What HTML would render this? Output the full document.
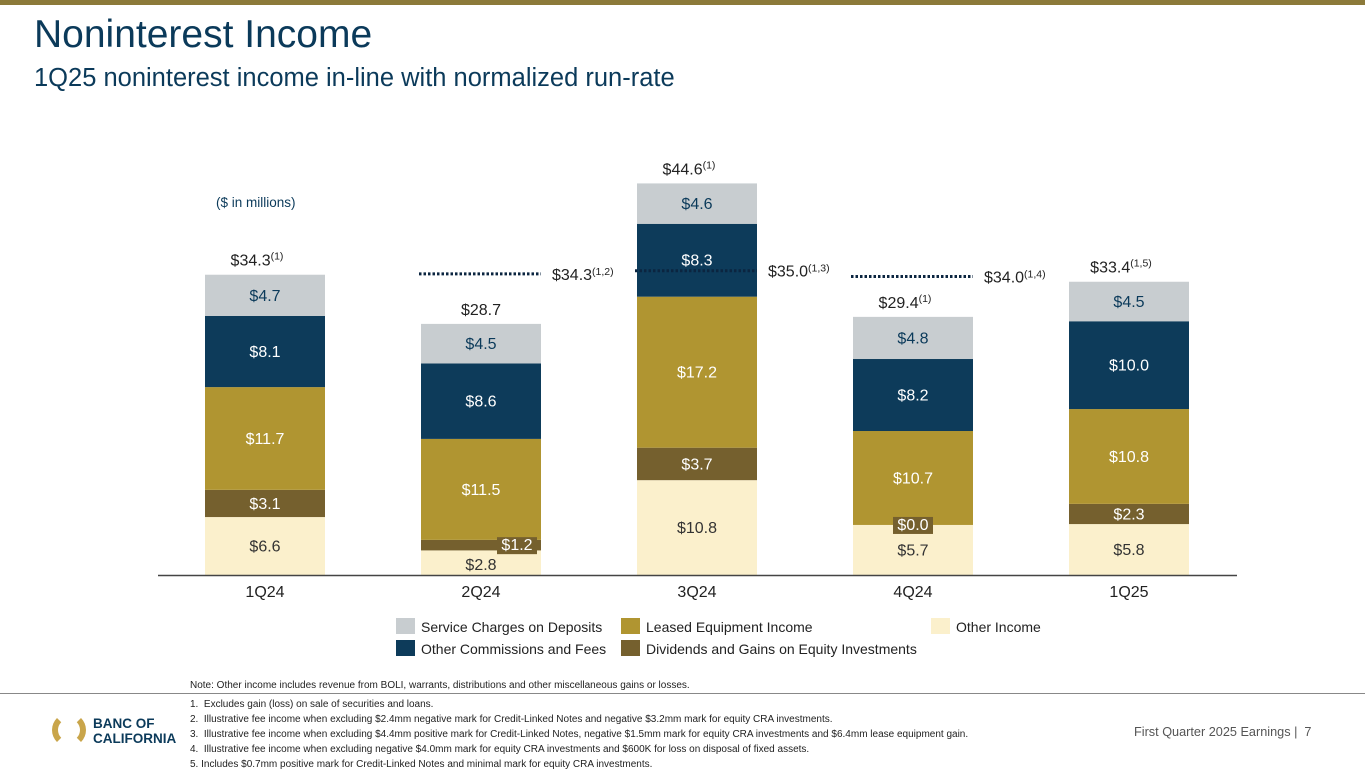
<!DOCTYPE html>
<html><head><meta charset="utf-8"><style>
body{margin:0;width:1365px;height:768px;overflow:hidden;background:#fff;font-family:"Liberation Sans",sans-serif;position:relative}
.t{position:absolute;white-space:nowrap}
</style></head><body>
<div style="position:absolute;left:0;top:0;width:1365px;height:5px;background:#8c7a3a"></div>
<div class="t" style="left:34px;top:13px;font-size:39px;color:#0b3a5a">Noninterest Income</div>
<div class="t" style="left:34px;top:64px;font-size:25.5px;color:#0b3a5a">1Q25 noninterest income in-line with normalized run-rate</div>
<div class="t" style="left:216px;top:195px;font-size:13.5px;color:#0b3a5a">($ in millions)</div>
<svg id="chart" width="1365" height="768" style="position:absolute;left:0;top:0"></svg>
<div>
<div style="position:absolute;left:396px;top:618px;width:19px;height:16px;background:#c8cdd0"></div>
<div class="t" style="left:421px;top:619px;font-size:14px;color:#222">Service Charges on Deposits</div>
<div style="position:absolute;left:621px;top:618px;width:19px;height:16px;background:#b09531"></div>
<div class="t" style="left:646px;top:619px;font-size:14px;color:#222">Leased Equipment Income</div>
<div style="position:absolute;left:931px;top:618px;width:19px;height:16px;background:#fbf0cc"></div>
<div class="t" style="left:956px;top:619px;font-size:14px;color:#222">Other Income</div>
<div style="position:absolute;left:396px;top:640px;width:19px;height:16px;background:#0d3b5a"></div>
<div class="t" style="left:421px;top:641px;font-size:14px;color:#222">Other Commissions and Fees</div>
<div style="position:absolute;left:621px;top:640px;width:19px;height:16px;background:#75602e"></div>
<div class="t" style="left:646px;top:641px;font-size:14px;color:#222">Dividends and Gains on Equity Investments</div>
</div>
<div class="t" style="left:190px;top:680px;font-size:10px;color:#222">Note: Other income includes revenue from BOLI, warrants, distributions and other miscellaneous gains or losses.</div>
<div style="position:absolute;left:0;top:693px;width:1365px;height:1px;background:#888"></div>
<div style="position:absolute;left:190px;top:697px;font-size:10px;line-height:15px;color:#222">
<div>1.&nbsp; Excludes gain (loss) on sale of securities and loans.</div>
<div>2.&nbsp; Illustrative fee income when excluding $2.4mm negative mark for Credit-Linked Notes and negative $3.2mm mark for equity CRA investments.</div>
<div>3.&nbsp; Illustrative fee income when excluding $4.4mm positive mark for Credit-Linked Notes, negative $1.5mm mark for equity CRA investments and $6.4mm lease equipment gain.</div>
<div>4.&nbsp; Illustrative fee income when excluding negative $4.0mm mark for equity CRA investments and $600K for loss on disposal of fixed assets.</div>
<div>5. Includes $0.7mm positive mark for Credit-Linked Notes and minimal mark for equity CRA investments.</div>
</div>
<div style="position:absolute;left:52px;top:713px;width:34px;height:34px;border-radius:50%;border:6px solid #c9a54a;border-top-color:transparent;border-bottom-color:transparent;box-sizing:border-box"></div>
<div class="t" style="left:93px;top:716px;font-size:13.5px;font-weight:bold;color:#0b3a5a;line-height:15px">BANC OF<br>CALIFORNIA</div>
<div class="t" style="left:1134px;top:725px;font-size:12.7px;color:#555">First Quarter 2025 Earnings |&nbsp; 7</div>
<script>
const categories=["1Q24","2Q24","3Q24","4Q24","1Q25"];
const otherIncome=[6.6,2.8,10.8,5.7,5.8];
const dividends=[3.1,1.2,3.7,0.0,2.3];
const leased=[11.7,11.5,17.2,10.7,10.8];
const commissions=[8.1,8.6,8.3,8.2,10.0];
const service=[4.7,4.5,4.6,4.8,4.5];
const totals=["$34.3","$28.7","$44.6","$29.4","$33.4"];
const totalNotes=["(1)","","(1)","(1)","(1,5)"];
const runRates=[null,34.3,35.0,34.0,null];
const runRateNotes=["","(1,2)","(1,3)","(1,4)",""];
const svg=document.getElementById('chart');
const NS='http://www.w3.org/2000/svg';
const base=575,k=8.78,barW=120;
const x=i=>265+i*216;
const y=v=>base-v*k;
function mk(t,a){const e=document.createElementNS(NS,t);for(const n in a)e.setAttribute(n,a[n]);svg.appendChild(e);return e;}
const series=[[otherIncome,'#fbf0cc','#333','other-income'],[dividends,'#75602e','#fff','dividends'],[leased,'#b09531','#fff','leased-equipment'],[commissions,'#0d3b5a','#fff','commissions'],[service,'#c8cdd0','#0b3a5a','service-charges']];
const labels=[];
categories.forEach((c,i)=>{
  let cum=0;
  series.forEach(([arr,col,tc,nm])=>{
    const v=arr[i],y0=y(cum),y1=y(cum+v);
    const r=mk('rect',{x:x(i)-barW/2,y:y1,width:barW,height:Math.max(0,y0-y1),fill:col});
    
    
    let ly=(y0+y1)/2+5.5,lx=x(i),boxed=false;
    if(nm==='dividends'&&v<2){boxed=true;lx=x(i)+(v>0.5?36:0);ly=(v>0.5?(y0+y1)/2+5:y0+5);}
    if(nm==='other-income'&&v<3){ly=y0-5;}
    labels.push([lx,ly,boxed,boxed?'#fff':tc,'$'+v.toFixed(1)]);
    cum+=v;
  });
  const tt=mk('text',{x:x(i)-(totalNotes[i]?8:0),y:y(cum)-9,'text-anchor':'middle','font-size':16,fill:'#222'});
  tt.innerHTML=totals[i]+(totalNotes[i]?'<tspan font-size="10.5" dy="-6">'+totalNotes[i]+'</tspan>':'');
  
  
  const xl=mk('text',{x:x(i),y:597,'text-anchor':'middle','font-size':16,fill:'#222'});
  xl.textContent=c;
  
  
});
labels.forEach(([lx,ly,boxed,col,txt])=>{
  if(boxed){const b=mk('rect',{x:lx-20,y:ly-13,width:40,height:17,fill:'#75602e'});}
  const t=mk('text',{x:lx,y:ly,'text-anchor':'middle','font-size':16,fill:col});
  t.textContent=txt;
  
  
});
categories.forEach((c,i)=>{
  if(runRates[i]!=null){
    const ly=y(runRates[i])+(i===2?3:0);
    const ln=mk('line',{x1:x(i)-62,x2:x(i)+60,y1:ly,y2:ly,stroke:'#0b2540','stroke-width':3,'stroke-dasharray':'2.5 2'});
    
    
    const rl=mk('text',{x:x(i)+71,y:ly+6,'font-size':16,fill:'#222'});
    rl.innerHTML='$'+runRates[i].toFixed(1)+'<tspan font-size="10.5" dy="-5">'+runRateNotes[i]+'</tspan>';
    
    
  }
});
const ax=mk('line',{x1:158,x2:1237,y1:base+0.5,y2:base+0.5,stroke:'#444','stroke-width':1.5});


</script>
</body></html>
